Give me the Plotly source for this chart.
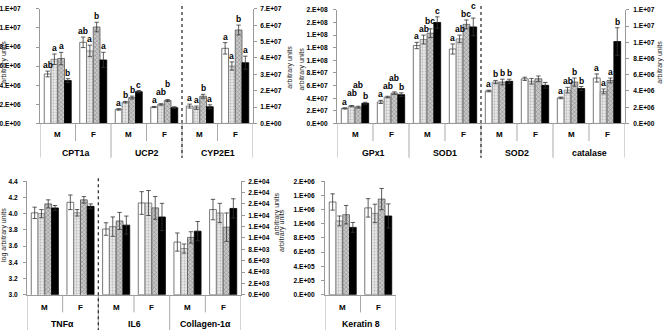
import plotly.graph_objects as go

W, H = 664, 333
FONT = "Liberation Sans, Arial, sans-serif"

# ------------------------------------------------------------------ data
sexes = ["M", "F"]
series_names = ["group 1", "group 2", "group 3", "group 4"]

# Panel A (top-left) – left axis: CPT1a, UCP2 ; right axis: CYP2E1
genes_a_left = ["CPT1a", "UCP2"]
a_left_vals = [[5.18e6, 8.5e6, 1.47e6, 1.72e6],
               [6.72e6, 7.6e6, 2.23e6, 1.99e6],
               [6.8e6, 10.1e6, 2.71e6, 2.4e6],
               [4.49e6, 6.65e6, 3.33e6, 1.65e6]]
a_left_errs = [[0.3e6, 0.55e6, 0.08e6, 0.06e6],
               [0.55e6, 0.6e6, 0.08e6, 0.08e6],
               [0.65e6, 0.5e6, 0.15e6, 0.1e6],
               [0.2e6, 0.8e6, 0.12e6, 0.1e6]]
a_left_letters = [["ab", "ab", "a", "a"],
                  ["a", "a", "b", "ab"],
                  ["a", "b", "b", "b"],
                  ["b", "a", "c", ""]]
genes_a_right = ["CYP2E1"]
a_right_vals = [[1.06e7, 4.59e7], [0.96e7, 3.51e7], [1.66e7, 5.71e7], [1.02e7, 3.71e7]]
a_right_errs = [[0.12e7, 0.35e7], [0.1e7, 0.25e7], [0.12e7, 0.3e7], [0.12e7, 0.4e7]]
a_right_letters = [["a", "a"], ["a", "a"], ["b", "b"], ["a", "a"]]
a_left_ticks = [0, 2e6, 4e6, 6e6, 8e6, 1e7, 1.2e7]
a_right_ticks = [0, 1e7, 2e7, 3e7, 4e7, 5e7, 6e7, 7e7]

# Panel B (top-right) – left axis: GPx1, SOD1 ; right axis: SOD2, catalase
genes_b_left = ["GPx1", "SOD1"]
b_left_vals = [[2.38e7, 3.41e7, 1.235e8, 1.18e8],
               [2.74e7, 4.19e7, 1.33e8, 1.34e8],
               [2.58e7, 4.8e7, 1.43e8, 1.57e8],
               [3.2e7, 4.55e7, 1.6e8, 1.53e8]]
b_left_errs = [[0.1e7, 0.25e7, 0.05e8, 0.08e8],
               [0.1e7, 0.12e7, 0.07e8, 0.06e8],
               [0.15e7, 0.2e7, 0.07e8, 0.07e8],
               [0.15e7, 0.3e7, 0.09e8, 0.14e8]]
b_left_letters = [["a", "a", "a", "a"],
                  ["ab", "ab", "ab", "ab"],
                  ["ab", "ab", "bc", "bc"],
                  ["b", "b", "c", "c"]]
genes_b_right = ["SOD2", "catalase"]
b_right_vals = [[4.0e6, 5.5e6, 3.15e6, 5.6e6],
                [5.1e6, 5.2e6, 4.1e6, 3.95e6],
                [5.1e6, 5.5e6, 5.1e6, 5.3e6],
                [5.2e6, 4.7e6, 4.3e6, 1.01e7]]
b_right_errs = [[0.1e6, 0.2e6, 0.1e6, 0.5e6],
                [0.2e6, 0.35e6, 0.35e6, 0.3e6],
                [0.35e6, 0.35e6, 0.5e6, 0.3e6],
                [0.25e6, 0.35e6, 0.25e6, 1.7e6]]
b_right_letters = [["a", "", "a", "a"],
                   ["b", "", "ab", "a"],
                   ["b", "", "b", "a"],
                   ["b", "", "b", "b"]]
b_left_ticks = [0, 2e7, 4e7, 6e7, 8e7, 1e8, 1.2e8, 1.4e8, 1.6e8, 1.8e8]
b_right_ticks = [0, 2e6, 4e6, 6e6, 8e6, 1e7, 1.2e7, 1.4e7]

# Panel C (bottom-left) – left axis (log): TNFα ; right axis: IL6, Collagen-1α
genes_c_left = ["TNFα"]
c_left_vals = [[4.01, 4.14], [4.00, 4.01], [4.12, 4.17], [4.07, 4.09]]
c_left_errs = [[0.07, 0.09], [0.05, 0.04], [0.05, 0.04], [0.03, 0.03]]
genes_c_right = ["IL6", "Collagen-1α"]
c_right_vals = [[1.158e4, 1.616e4, 0.928e4, 1.5e4],
                [1.2e4, 1.616e4, 0.814e4, 1.44e4],
                [1.3e4, 1.53e4, 1.01e4, 1.19e4],
                [1.226e4, 1.37e4, 1.12e4, 1.52e4]]
c_right_errs = [[0.11e4, 0.2e4, 0.16e4, 0.18e4],
                [0.17e4, 0.22e4, 0.08e4, 0.17e4],
                [0.15e4, 0.2e4, 0.1e4, 0.25e4],
                [0.16e4, 0.24e4, 0.17e4, 0.17e4]]
c_left_ticks = [3.0, 3.2, 3.4, 3.6, 3.8, 4.0, 4.2, 4.4]
c_right_ticks = [0, 2e3, 4e3, 6e3, 8e3, 1e4, 1.2e4, 1.4e4, 1.6e4, 1.8e4, 2e4]

# Panel D (bottom-middle) – Keratin 8
genes_d = ["Keratin 8"]
d_vals = [[1.307e6, 1.224e6], [1.04e6, 1.146e6], [1.128e6, 1.348e6], [0.949e6, 1.11e6]]
d_errs = [[0.115e6, 0.13e6], [0.07e6, 0.13e6], [0.13e6, 0.15e6], [0.07e6, 0.17e6]]
d_ticks = [0, 2e5, 4e5, 6e5, 8e5, 1e6, 1.2e6, 1.4e6, 1.6e6]

# ------------------------------------------------------------------ styling
BW = 0.19  # bar width in category units
bar_styles = [
    dict(color="white", line=dict(color="#555", width=0.8)),
    dict(color="#e4e4e4", line=dict(color="#777", width=0.8),
         pattern=dict(shape=".", fgcolor="#8a8a8a", bgcolor="#e8e8e8", size=3, solidity=0.35)),
    dict(color="#bdbdbd", line=dict(color="#555", width=0.8),
         pattern=dict(shape="x", fgcolor="#3a3a3a", bgcolor="#c8c8c8", size=3, solidity=0.3)),
    dict(color="black", line=dict(color="black", width=0.8)),
]
AX = "#999999"
LETTER_SIZE = 8.5
CHAR_W = 5.0      # approx px per bold letter
LETTER_H = 8.5    # approx px height of a letter

# panel geometry in pixels: (left, right, n halves) for x ; (top, bottom) for y
GEOM_X = {"x": (40, 253, 6), "x2": (337, 625, 8), "x3": (27, 241, 6), "x4": (325, 396, 2)}
GEOM_Y = {"y": (5, 122), "y2": (5, 122), "y3": (6, 122), "y4": (6, 122),
          "y5": (181, 297), "y6": (181, 297), "y7": (181, 297)}
RANGES = {"y": [0, 1.2e7], "y2": [0, 7e7], "y3": [0, 1.8e8], "y4": [0, 1.4e7],
          "y5": [3.0, 4.4], "y6": [0, 2e4], "y7": [0, 1.6e6]}


def px_x(p):
    return p / W


def px_y(p):
    return 1 - p / H


def sci(v):
    return "%#.0E" % v


fig = go.Figure()
annotations = []


def add_bars(xa, ya, start, vals, errs, letters=None):
    n_half = len(vals[0])
    for k in range(4):
        idx = [start + i for i in range(n_half)]
        xs = [i + (k - 1.5) * BW for i in idx]
        fig.add_trace(go.Bar(
            x=xs, y=vals[k], width=BW, name=series_names[k], xaxis=xa, yaxis=ya,
            marker=bar_styles[k], showlegend=False,
            error_y=dict(type="data", array=errs[k], color="#333", thickness=0.8, width=2.2),
        ))
    if not letters:
        return
    # significance letters: placed above the error bar, nudged up when they collide
    xl, xr, n = GEOM_X[xa]
    yt, yb = GEOM_Y[ya]
    r0, r1 = RANGES[ya]
    unit = (xr - xl) / n
    for i in range(n_half):
        placed = []
        for k in range(4):
            txt = letters[k][i]
            if not txt:
                continue
            top_val = vals[k][i] + errs[k][i]
            xpx = (k - 1.5) * BW * unit
            natural = yb - (top_val - r0) / (r1 - r0) * (yb - yt)
            w = CHAR_W * len(txt)
            bottom = natural
            moved = True
            while moved:
                moved = False
                for (xj, wj, bj) in placed:
                    if abs(xpx - xj) < (w + wj) / 2 and bottom > bj - LETTER_H + 1.5 and bottom - LETTER_H < bj - 1.5:
                        bottom = bj - LETTER_H
                        moved = True
            placed.append((xpx, w, bottom))
            annotations.append(dict(
                x=start + i + (k - 1.5) * BW, y=top_val, xref=xa, yref=ya, text=txt,
                showarrow=False, yanchor="bottom", xanchor="center", yshift=natural - bottom,
                font=dict(family=FONT, size=LETTER_SIZE, color="black", weight="bold"),
                borderpad=0,
            ))


add_bars("x", "y", 0, a_left_vals, a_left_errs, a_left_letters)
add_bars("x", "y2", 4, a_right_vals, a_right_errs, a_right_letters)
add_bars("x2", "y3", 0, b_left_vals, b_left_errs, b_left_letters)
add_bars("x2", "y4", 4, b_right_vals, b_right_errs, b_right_letters)
add_bars("x3", "y5", 0, c_left_vals, c_left_errs)
add_bars("x3", "y6", 2, c_right_vals, c_right_errs)
add_bars("x4", "y7", 0, d_vals, d_errs)

tickfont = dict(family=FONT, size=6.6, color="black", weight="bold")


def xaxis(key, anchor):
    x0, x1, n = GEOM_X[key]
    return dict(domain=[px_x(x0), px_x(x1)], range=[-0.5, n - 0.5], anchor=anchor,
                showticklabels=False, ticks="", showgrid=False, zeroline=False,
                showline=True, linecolor=AX, linewidth=1, fixedrange=True)


def yaxis(key, ticks, labels, anchor, side="left", overlay=None, standoff=2):
    top, bot = GEOM_Y[key]
    d = dict(domain=[px_y(bot), px_y(top)], range=RANGES[key], anchor=anchor, side=side,
             tickvals=ticks, ticktext=labels, ticks="outside", ticklen=3,
             tickcolor=AX, showline=True, linecolor=AX, linewidth=1,
             showgrid=False, zeroline=False, tickfont=tickfont,
             ticklabelstandoff=standoff, fixedrange=True)
    if overlay:
        d["overlaying"] = overlay
    return d


fig.update_layout(
    width=W, height=H, margin=dict(l=0, r=0, t=0, b=0),
    paper_bgcolor="white", plot_bgcolor="rgba(0,0,0,0)",
    barmode="overlay", showlegend=False, font=dict(family=FONT),
    xaxis=xaxis("x", "y"),
    yaxis=yaxis("y", a_left_ticks, [sci(v) for v in a_left_ticks], "x", standoff=14),
    yaxis2=yaxis("y2", a_right_ticks, [sci(v) for v in a_right_ticks], "x", "right", "y"),
    xaxis2=xaxis("x2", "y3"),
    yaxis3=yaxis("y3", b_left_ticks, [sci(v) for v in b_left_ticks], "x2", standoff=4),
    yaxis4=yaxis("y4", b_right_ticks, [sci(v) for v in b_right_ticks], "x2", "right", "y3", standoff=3),
    xaxis3=xaxis("x3", "y5"),
    yaxis5=yaxis("y5", c_left_ticks, ["%.1f" % v for v in c_left_ticks], "x3", standoff=4),
    yaxis6=yaxis("y6", c_right_ticks, [sci(v) for v in c_right_ticks], "x3", "right", "y5", standoff=2),
    xaxis4=xaxis("x4", "y7"),
    yaxis7=yaxis("y7", d_ticks, [sci(v) for v in d_ticks], "x4", standoff=5),
)

# ---- category axis: labels, dividers, dotted separators
shapes = []
lab_font = dict(family=FONT, size=8, color="black", weight="bold")
gene_font = dict(family=FONT, size=8.8, color="black", weight="bold")


def category_axis(xref, genes, axis_y, row1_y, row2_y, short_end, long_end):
    n = 2 * len(genes)
    for i in range(n):
        annotations.append(dict(x=i, y=px_y(row1_y), xref=xref, yref="paper", text=sexes[i % 2],
                                showarrow=False, font=lab_font, yanchor="middle"))
    for g, name in enumerate(genes):
        annotations.append(dict(x=2 * g + 0.5, y=px_y(row2_y), xref=xref, yref="paper", text=name,
                                showarrow=False, font=gene_font, yanchor="middle"))
    for b in range(n + 1):
        xb = b - 0.5
        end = long_end if b % 2 == 0 else short_end
        shapes.append(dict(type="line", xref=xref, yref="paper", x0=xb, x1=xb,
                           y0=px_y(axis_y), y1=px_y(end), line=dict(color="#aaaaaa", width=1)))


category_axis("x", genes_a_left + genes_a_right, 122, 133, 152, 140, 157)
category_axis("x2", genes_b_left + genes_b_right, 122, 133, 152, 140, 157)
category_axis("x3", genes_c_left + genes_c_right, 297, 310, 327, 315, 333)
category_axis("x4", genes_d, 297, 310, 327, 315, 333)


def dotted(xref, xb, y_top, y_bot):
    shapes.append(dict(type="line", xref=xref, yref="paper", x0=xb, x1=xb,
                       y0=px_y(y_top), y1=px_y(y_bot), line=dict(color="#333", width=1.3, dash="dot")))


dotted("x", len(genes_a_left) * 2 - 0.5, 2, 157)
dotted("x2", len(genes_b_left) * 2 - 0.5, 2, 157)
dotted("x3", len(genes_c_left) * 2 - 0.5, 178, 333)

# ---- y-axis titles
title_font = dict(family=FONT, size=7, color="#222")


def ytitle(text, xp, yp):
    annotations.append(dict(x=px_x(xp), y=px_y(yp), xref="paper", yref="paper", text=text,
                            textangle=-90, showarrow=False, font=title_font,
                            xanchor="center", yanchor="middle"))


ytitle("arbitrary units", 4, 60)
ytitle("arbitrary units", 290, 65)
ytitle("arbitrary units", 302, 67)
ytitle("arbitrary units", 660, 60)
ytitle("log arbitrary units", 4, 236)
ytitle("arbitrary units", 277, 215)
ytitle("arbitrary units", 282, 232)

fig.update_layout(shapes=shapes, annotations=annotations)
fig.write_html("out.html", config={"displayModeBar": False},
               post_script="document.body.style.margin='0px';")
